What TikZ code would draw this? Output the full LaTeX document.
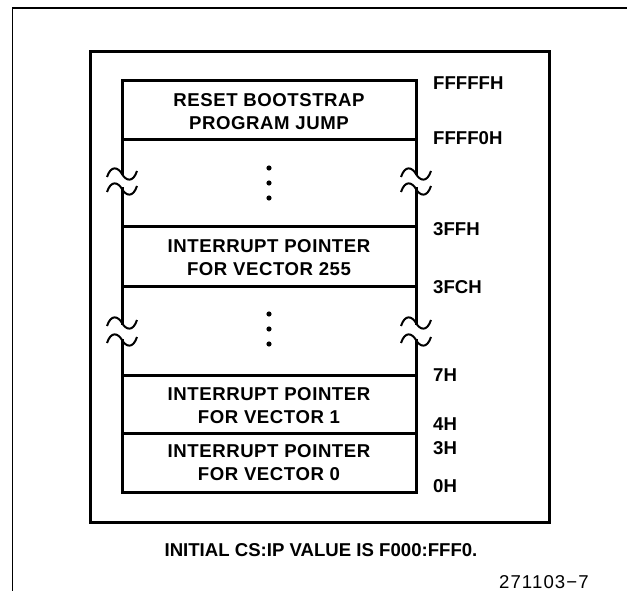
\documentclass[tikz,border=0pt]{standalone}
\usepackage{fontspec}
\setmainfont{Liberation Sans}
\begin{document}
\begin{tikzpicture}[x=1pt, y=-1pt,
  cell/.style={font=\bfseries\fontsize{18.6}{23}\selectfont\addfontfeatures{LetterSpace=3}, align=center, inner sep=0pt},
  addr/.style={font=\bfseries\fontsize{18.6}{23}\selectfont, anchor=west, inner sep=0pt},
  wall/.style={line width=3pt, line cap=rect},
  frame/.style={line width=1.5pt}]

\useasboundingbox (0,0) rectangle (627,591);

% Column edges and centre (pixel coords, y downward)
\def\ml{122}
\def\mr{416}
\def\mc{269}

% Break mark: a ~ across the column edge at (#1,#2)
\newcommand{\brkmark}[2]{%
  \draw[line width=2pt] (#1-15,#2+3) .. controls (#1-11,#2-9) and (#1-4,#2-7) .. (#1,#2)
    .. controls (#1+4,#2+7) and (#1+11,#2+9) .. (#1+15,#2-3);}

% --- Page frame ---
\draw[frame] (12.7,591) -- (12.7,8) -- (627,8);

% --- Outer box ---
\draw[wall] (90,52) rectangle (549,522);

% --- Memory column ---
\foreach \y in {81,140,226,286,375,433,492}
  \draw[wall] (\ml,\y) -- (\mr,\y);

\foreach \x in {\ml,\mr} {
  \draw[wall] (\x,81) -- (\x,174);
  \draw[wall] (\x,189) -- (\x,323);
  \draw[wall] (\x,340) -- (\x,492);
  \brkmark{\x}{174}
  \brkmark{\x}{189}
  \brkmark{\x}{323}
  \brkmark{\x}{340}
}

% Dots in the skipped regions
\foreach \y in {168,183,198,314,329,344}
  \fill (\mc,\y) circle (2.6);

% Cell texts
\node[cell] (reset) at (\mc,112) {RESET BOOTSTRAP\\PROGRAM JUMP};
\node[cell] (vec255) at (\mc,258) {INTERRUPT POINTER\\FOR VECTOR 255};
\node[cell] (vec1) at (\mc,405.5) {INTERRUPT POINTER\\FOR VECTOR 1};
\node[cell] (vec0) at (\mc,462.5) {INTERRUPT POINTER\\FOR VECTOR 0};

% Addresses
\node[addr] (aFFFFF) at (433,83) {FFFFFH};
\node[addr] (aFFFF0) at (433,138) {FFFF0H};
\node[addr] (a3FF) at (433,229) {3FFH};
\node[addr] (a3FC) at (433,287) {3FCH};
\node[addr] (a7) at (433,375) {7H};
\node[addr] (a4) at (433,424) {4H};
\node[addr] (a3) at (433,448) {3H};
\node[addr] (a0) at (433,486) {0H};

% Caption and figure number
\node[font=\bfseries\fontsize{18.6}{23}\selectfont, inner sep=0pt] (note) at (321,550) {INITIAL CS:IP VALUE IS F000:FFF0.};
\node[font=\fontsize{18.6}{23}\selectfont\addfontfeatures{LetterSpace=6}, anchor=east, inner sep=0pt] (fignum) at (589,582) {271103\char"2212 7};

\end{tikzpicture}
\end{document}
